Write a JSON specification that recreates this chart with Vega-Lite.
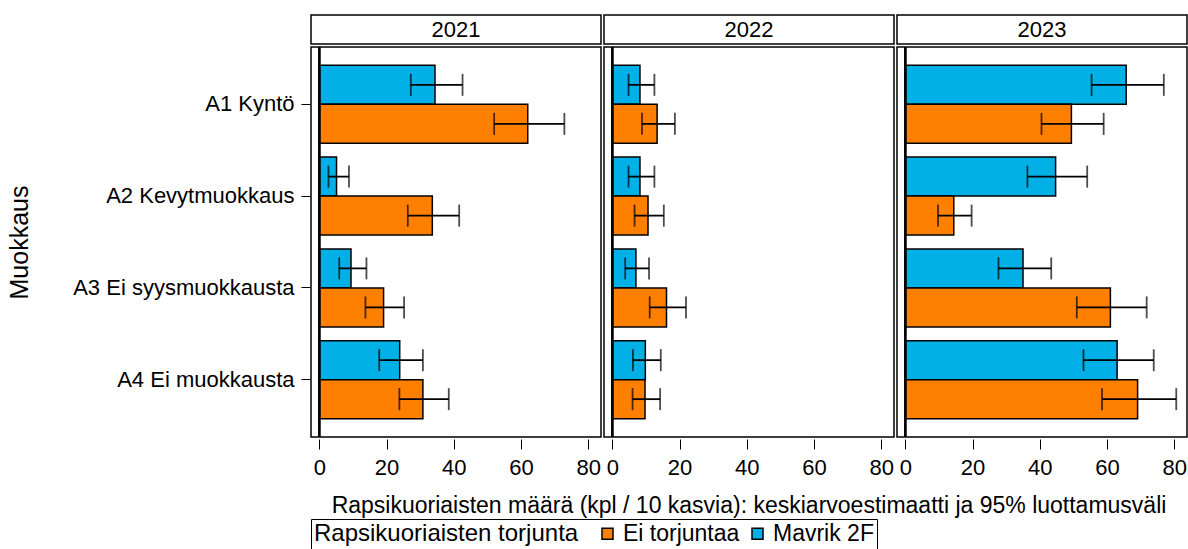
{
  "$schema": "https://vega.github.io/schema/vega-lite/v6.json",
  "padding": {"left": 7, "top": 14, "right": 0, "bottom": 0},
  "background": "white",
  "config": {
    "font": "Liberation Sans",
    "view": {"stroke": "black", "strokeWidth": 1.5},
    "axis": {"labelColor": "black", "titleColor": "black", "tickColor": "black", "domain": false, "grid": false, "labelFont": "Liberation Sans", "titleFont": "Liberation Sans", "titleFontWeight": "normal"},
    "legend": {"orient": "none", "legendX": 0, "legendY": 504}
  },
  "datasets": {
    "years": [{"year": "2021"}, {"year": "2022"}, {"year": "2023"}],
    "main": [
      {"year": "2021", "muokkaus": "A1 Kyntö", "torjunta": "Mavrik 2F", "mean": 34.4, "lo": 27.2, "hi": 42.6},
      {"year": "2021", "muokkaus": "A1 Kyntö", "torjunta": "Ei torjuntaa", "mean": 62.0, "lo": 52.0, "hi": 72.9},
      {"year": "2021", "muokkaus": "A2 Kevytmuokkaus", "torjunta": "Mavrik 2F", "mean": 5.1, "lo": 2.7, "hi": 8.8},
      {"year": "2021", "muokkaus": "A2 Kevytmuokkaus", "torjunta": "Ei torjuntaa", "mean": 33.6, "lo": 26.3, "hi": 41.6},
      {"year": "2021", "muokkaus": "A3 Ei syysmuokkausta", "torjunta": "Mavrik 2F", "mean": 9.4, "lo": 5.9, "hi": 14.0},
      {"year": "2021", "muokkaus": "A3 Ei syysmuokkausta", "torjunta": "Ei torjuntaa", "mean": 19.1, "lo": 13.7, "hi": 25.2},
      {"year": "2021", "muokkaus": "A4 Ei muokkausta", "torjunta": "Mavrik 2F", "mean": 23.9, "lo": 17.8, "hi": 30.8},
      {"year": "2021", "muokkaus": "A4 Ei muokkausta", "torjunta": "Ei torjuntaa", "mean": 30.8, "lo": 23.8, "hi": 38.5},
      {"year": "2022", "muokkaus": "A1 Kyntö", "torjunta": "Mavrik 2F", "mean": 8.2, "lo": 4.8, "hi": 12.5},
      {"year": "2022", "muokkaus": "A1 Kyntö", "torjunta": "Ei torjuntaa", "mean": 13.3, "lo": 8.8, "hi": 18.6},
      {"year": "2022", "muokkaus": "A2 Kevytmuokkaus", "torjunta": "Mavrik 2F", "mean": 8.2, "lo": 4.8, "hi": 12.5},
      {"year": "2022", "muokkaus": "A2 Kevytmuokkaus", "torjunta": "Ei torjuntaa", "mean": 10.6, "lo": 6.6, "hi": 15.3},
      {"year": "2022", "muokkaus": "A3 Ei syysmuokkausta", "torjunta": "Mavrik 2F", "mean": 7.0, "lo": 3.8, "hi": 10.9},
      {"year": "2022", "muokkaus": "A3 Ei syysmuokkausta", "torjunta": "Ei torjuntaa", "mean": 16.1, "lo": 11.1, "hi": 21.9},
      {"year": "2022", "muokkaus": "A4 Ei muokkausta", "torjunta": "Mavrik 2F", "mean": 9.8, "lo": 6.1, "hi": 14.4},
      {"year": "2022", "muokkaus": "A4 Ei muokkausta", "torjunta": "Ei torjuntaa", "mean": 9.7, "lo": 6.0, "hi": 14.2},
      {"year": "2023", "muokkaus": "A1 Kyntö", "torjunta": "Mavrik 2F", "mean": 65.7, "lo": 55.4, "hi": 76.9},
      {"year": "2023", "muokkaus": "A1 Kyntö", "torjunta": "Ei torjuntaa", "mean": 49.4, "lo": 40.5, "hi": 59.0},
      {"year": "2023", "muokkaus": "A2 Kevytmuokkaus", "torjunta": "Mavrik 2F", "mean": 44.7, "lo": 36.3, "hi": 54.1},
      {"year": "2023", "muokkaus": "A2 Kevytmuokkaus", "torjunta": "Ei torjuntaa", "mean": 14.4, "lo": 9.7, "hi": 19.7},
      {"year": "2023", "muokkaus": "A3 Ei syysmuokkausta", "torjunta": "Mavrik 2F", "mean": 35.0, "lo": 27.7, "hi": 43.4},
      {"year": "2023", "muokkaus": "A3 Ei syysmuokkausta", "torjunta": "Ei torjuntaa", "mean": 61.0, "lo": 51.0, "hi": 71.8},
      {"year": "2023", "muokkaus": "A4 Ei muokkausta", "torjunta": "Mavrik 2F", "mean": 63.0, "lo": 53.0, "hi": 73.9},
      {"year": "2023", "muokkaus": "A4 Ei muokkausta", "torjunta": "Ei torjuntaa", "mean": 69.1, "lo": 58.5, "hi": 80.6}
    ]
  },
  "spacing": 0,
  "vconcat": [
    {
      "data": {"name": "years"},
      "facet": {"column": {"field": "year", "type": "ordinal", "header": null}},
      "spacing": 1,
      "spec": {
        "width": 290,
        "height": 29,
        "layer": [
          {
            "mark": {"type": "rect", "fill": "white", "stroke": "black", "strokeWidth": 1.5},
            "encoding": {}
          },
          {
            "mark": {"type": "text", "fontSize": 22, "color": "black", "font": "Liberation Sans"},
            "encoding": {"text": {"field": "year", "type": "nominal"}}
          }
        ]
      }
    },
    {
      "data": {"name": "main"},
      "facet": {
        "column": {
          "field": "year", "type": "ordinal",
          "header": {
            "labels": false,
            "title": "Rapsikuoriaisten määrä (kpl / 10 kasvia): keskiarvoestimaatti ja 95% luottamusväli",
            "titleOrient": "bottom",
            "titleFontSize": 23,
            "titleFontWeight": "normal",
            "titleColor": "black",
            "titleFont": "Liberation Sans",
            "titlePadding": 7
          }
        }
      },
      "spacing": 1,
      "spec": {
        "width": 290,
        "height": 390,
        "encoding": {
          "y": {
            "field": "muokkaus", "type": "nominal",
            "sort": ["A1 Kyntö", "A2 Kevytmuokkaus", "A3 Ei syysmuokkausta", "A4 Ei muokkausta"],
            "scale": {"paddingInner": 0.15, "paddingOuter": 0.2},
            "axis": {"title": "Muokkaus", "titleFontSize": 25, "titleX": -278, "labelFontSize": 22, "tickSize": 9, "labelPadding": 7, "labelLimit": 400}
          },
          "yOffset": {
            "field": "torjunta", "type": "nominal",
            "scale": {"domain": ["Mavrik 2F", "Ei torjuntaa"], "paddingInner": 0, "paddingOuter": 0}
          }
        },
        "layer": [
          {
            "mark": {"type": "bar", "stroke": "black", "strokeWidth": 1.5, "opacity": 1},
            "encoding": {
              "x": {
                "field": "mean", "type": "quantitative",
                "scale": {"domain": [-2.5, 83.8], "nice": false, "zero": false},
                "axis": {"title": null, "values": [0, 20, 40, 60, 80], "labelFontSize": 22, "tickSize": 10, "labelPadding": 8, "labelFlush": false}
              },
              "color": {
                "field": "torjunta", "type": "nominal",
                "scale": {"domain": ["Ei torjuntaa", "Mavrik 2F"], "range": ["#FF8000", "#00B0E6"]},
                "legend": {
                  "title": "Rapsikuoriaisten torjunta",
                  "direction": "horizontal",
                  "titleOrient": "left",
                  "titleLimit": 500,
                  "labelLimit": 300,
                  "strokeColor": "black",
                  "fillColor": "white",
                  "padding": 3,
                  "titleFontSize": 24,
                  "titleFontWeight": "normal",
                  "titleColor": "black",
                  "titlePadding": 17,
                  "labelFontSize": 23,
                  "labelColor": "black",
                  "symbolType": "square",
                  "symbolSize": 121,
                  "symbolStrokeColor": "black",
                  "symbolStrokeWidth": 1.5,
                  "symbolOpacity": 1,
                  "columnPadding": 6,
                  "labelOffset": 4
                }
              }
            }
          },
          {
            "mark": {"type": "rule", "color": "black", "strokeWidth": 1.5},
            "encoding": {"x": {"datum": 0}, "y": null, "yOffset": null}
          },
          {
            "mark": {"type": "rule", "color": "black", "strokeWidth": 1.8},
            "encoding": {"x": {"field": "lo", "type": "quantitative"}, "x2": {"field": "hi"}}
          },
          {
            "mark": {"type": "tick", "color": "black", "thickness": 1.8, "size": 22},
            "encoding": {"x": {"field": "lo", "type": "quantitative"}}
          },
          {
            "mark": {"type": "tick", "color": "black", "thickness": 1.8, "size": 22},
            "encoding": {"x": {"field": "hi", "type": "quantitative"}}
          }
        ]
      }
    }
  ]
}
